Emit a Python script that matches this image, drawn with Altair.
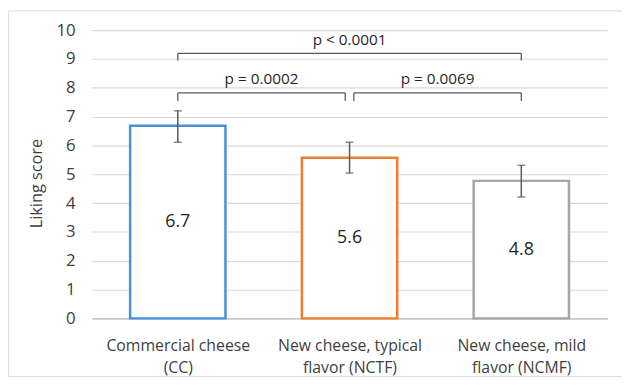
import altair as alt
import pandas as pd

# ---- data ----
categories = ["CC", "NCTF", "NCMF"]
label_line1 = ["Commercial  cheese", "New cheese,  typical", "New cheese,  mild"]
label_line2 = ["(CC)", "flavor  (NCTF)", "flavor  (NCMF)"]
means = [6.68, 5.57, 4.77]
err_low = [6.11, 5.04, 4.21]
err_high = [7.20, 6.11, 5.31]
bar_colors = ["#4A90D9", "#F07D2C", "#A5A5A5"]
y_ticks = [0, 1, 2, 3, 4, 5, 6, 7, 8, 9, 10]

bracket_x1 = [0.0, 1.025, 0.0]
bracket_x2 = [0.975, 2.0, 2.0]
bracket_y = [7.82, 7.82, 9.19]
bracket_drop = [0.28, 0.28, 0.24]
p_labels = ["p = 0.0002", "p = 0.0069", "p < 0.0001"]

FONT = "Open Sans"
W, H = 522, 292
YTITLE = "Liking score"
HALF = 0.2775  # half bar width in category units

idx = list(range(len(categories)))
bars_df = pd.DataFrame({
    "cat": categories, "i": idx, "mean": means, "lo": err_low, "hi": err_high,
    "half": [m / 2 for m in means],
    "lab": [f"{m:.1f}" for m in means],
})
bars_df["xl"] = bars_df["i"] - HALF
bars_df["xr"] = bars_df["i"] + HALF

br_df = pd.DataFrame({"x1": bracket_x1, "x2": bracket_x2, "y": bracket_y,
                      "ylow": [y - d for y, d in zip(bracket_y, bracket_drop)],
                      "p": p_labels})
br_df["xm"] = (br_df["x1"] + br_df["x2"]) / 2
br_df["ytext"] = br_df["y"] + 0.48
legs = pd.concat([
    br_df[["x1", "y", "ylow"]].rename(columns={"x1": "xv"}),
    br_df[["x2", "y", "ylow"]].rename(columns={"x2": "xv"}),
])

label_expr = " : ".join(
    f"datum.value == {i} ? ['{a}', '{b}']" for i, a, b in zip(idx, label_line1, label_line2)
) + " : ''"

xscale = alt.Scale(domain=[-0.5, len(categories) - 0.5], nice=False, zero=False)
xaxis = alt.Axis(values=idx, labelExpr=label_expr, labelAngle=0, grid=False, ticks=False,
                 labelFont=FONT, labelFontSize=16, labelColor="#404040", labelLineHeight=22,
                 labelPadding=20, domainColor="#BFBFBF", domainWidth=1.5, labelFlush=False)
yscale = alt.Scale(domain=[0, 10], nice=False)
yaxis = alt.Axis(values=y_ticks, labelFont=FONT, labelFontSize=17,
                 labelColor="#404040", labelPadding=17, ticks=False, domain=False,
                 grid=True, gridColor="#D9D9D9", gridWidth=1.2, titleFont=FONT,
                 titleFontSize=16.5, titleFontWeight="normal", titleColor="#404040",
                 titleX=-56, titleY=H / 2 + 9, titleAngle=-90,
                 titleAlign="center", titleBaseline="middle")


def X(field):
    return alt.X(field, scale=xscale, title=None, axis=xaxis)


def Y(field):
    return alt.Y(field, scale=yscale, title=YTITLE, axis=yaxis)


base = alt.Chart(bars_df)

border = alt.Chart(pd.DataFrame({"k": [0]})).mark_rect(
    fill=None, stroke="#D9D9D9", strokeWidth=1, clip=False
).encode(x=alt.value(-84.5), x2=alt.value(W + 40), y=alt.value(-19.5), y2=alt.value(H + 59))

bars = base.mark_rect(fill="white", strokeWidth=2.5).encode(
    x=X("xl:Q"), x2="xr:Q", y=Y("mean:Q"), y2=alt.datum(0),
    stroke=alt.Stroke("cat:N", scale=alt.Scale(domain=categories, range=bar_colors), legend=None),
)
err = base.mark_rule(color="#595959", strokeWidth=1.5).encode(
    x=X("i:Q"), y=Y("lo:Q"), y2="hi:Q")
cap_lo = base.mark_tick(color="#595959", thickness=1.5, size=8, orient="horizontal").encode(
    x=X("i:Q"), y=Y("lo:Q"))
cap_hi = base.mark_tick(color="#595959", thickness=1.5, size=8, orient="horizontal").encode(
    x=X("i:Q"), y=Y("hi:Q"))
vals = base.mark_text(font=FONT, fontSize=18, color="#262626", baseline="middle").encode(
    x=X("i:Q"), y=Y("half:Q"), text="lab:N")

hrules = alt.Chart(br_df).mark_rule(color="#595959", strokeWidth=1.3).encode(
    x=X("x1:Q"), x2="x2:Q", y=Y("y:Q"))
vrules = alt.Chart(legs).mark_rule(color="#595959", strokeWidth=1.3).encode(
    x=X("xv:Q"), y=Y("y:Q"), y2="ylow:Q")
ptext = alt.Chart(br_df).mark_text(font=FONT, fontSize=15.5, color="#262626", baseline="middle").encode(
    x=X("xm:Q"), y=Y("ytext:Q"), text="p:N")

chart = alt.layer(border, bars, err, cap_lo, cap_hi, vals, hrules, vrules, ptext).properties(
    width=W, height=H,
    background="white",
    autosize=alt.AutoSizeParams(type="none"),
    padding={"left": 85, "top": 20, "right": 15, "bottom": 60},
).configure_view(stroke=None)

chart.save("out.html", embed_options={"renderer": "svg", "actions": False})
